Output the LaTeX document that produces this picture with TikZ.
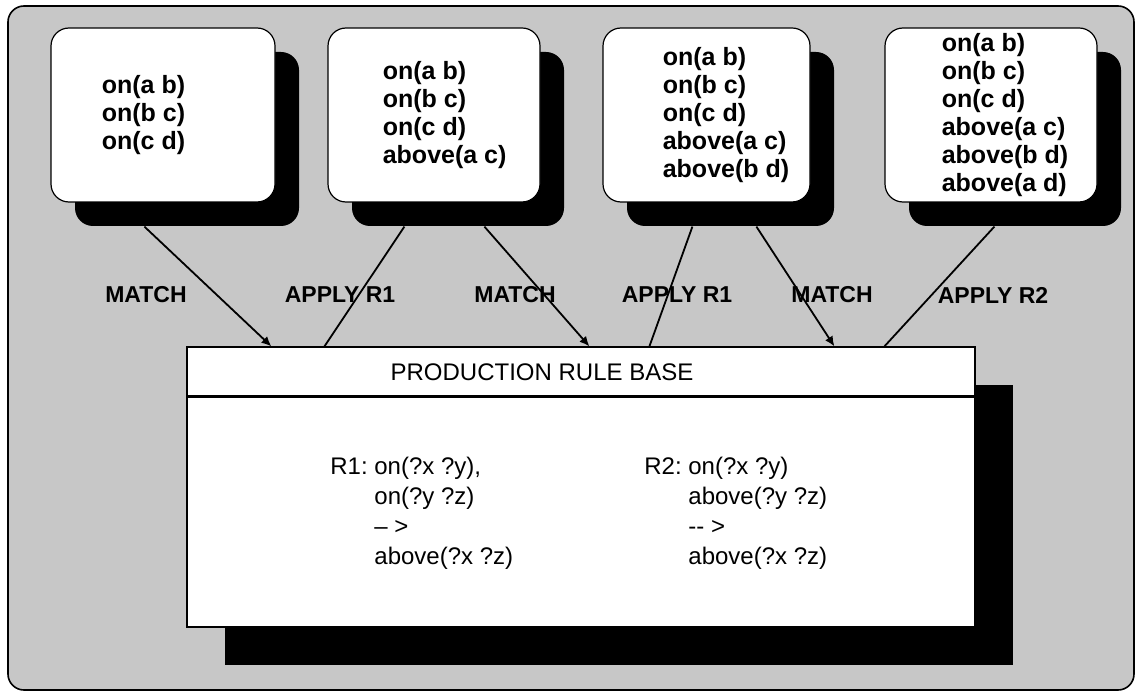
\documentclass[tikz,border=0pt]{standalone}
\usepackage{fontspec}
\setmainfont{Liberation Sans}
\usetikzlibrary{arrows.meta,calc,shadows,positioning}

\begin{document}
\begin{tikzpicture}[x=0.5pt, y=-0.5pt,
    every node/.style={font=\fontsize{12}{15}\selectfont},
    state/.style={draw=black, line width=0.6pt, fill=white, rounded corners=9pt,
      minimum height=87pt, inner sep=0pt,
      drop shadow={shadow xshift=12pt, shadow yshift=-12pt, fill=black, opacity=1}},
    facts/.style={align=left, inner sep=0pt, font=\bfseries\fontsize{12.5}{14}\selectfont},
    rulebox/.style={draw=black, line width=0.6pt, fill=white,
      minimum width=394pt, minimum height=140pt, inner sep=0pt,
      drop shadow={shadow xshift=19pt, shadow yshift=-19pt, fill=black, opacity=1}},
    tag/.style={font=\bfseries\fontsize{11.5}{12}\selectfont},
    flow/.style={line width=0.9pt},
    flowin/.style={flow, -{Latex[length=5pt,width=4.5pt]}}]
  \useasboundingbox (0,0) rectangle (1139,695);

  % halftone panel
  \draw[line width=0.8pt, fill=black!22, rounded corners=8pt] (8,6) rectangle (1134,690);

  % states of working memory
  \node[state, minimum width=112pt] (box1) at (163,115) {};
  \node[state, minimum width=106pt] (box2) at (434,115) {};
  \node[state, minimum width=103.5pt] (box3) at (706.5,115) {};
  \node[state, minimum width=106pt] (box4) at (991,115) {};
  \node[facts, right=25.5pt of box1.west] (txt1) {on(a b)\\on(b c)\\on(c d)};
  \node[facts, right=27.5pt of box2.west] (txt2) {on(a b)\\on(b c)\\on(c d)\\above(a c)};
  \node[facts, right=30pt of box3.west] (txt3) {on(a b)\\on(b c)\\on(c d)\\above(a c)\\above(b d)};
  \node[facts, right=28.5pt of box4.west] (txt4) {on(a b)\\on(b c)\\on(c d)\\above(a c)\\above(b d)\\above(a d)};

  % rule base
  \node[rulebox] (rules) at (581,487) {};
  \draw[line width=1.5pt] ($(rules.north west)+(0,50)$) -- ($(rules.north east)+(0,50)$);
  \node (title) at (542,372) {PRODUCTION RULE BASE};
  \node[anchor=base west, inner sep=0pt] (r1) at (330,474)
    {\begin{tabular}[t]{@{}l@{\ }l@{}}R1: & on(?x ?y),\\ & on(?y ?z)\\ & -- >\\ & above(?x ?z)\end{tabular}};
  \node[anchor=base west, inner sep=0pt] (r2) at (644,474)
    {\begin{tabular}[t]{@{}l@{\ }l@{}}R2: & on(?x ?y)\\ & above(?y ?z)\\ & {-}{-} >\\ & above(?x ?z)\end{tabular}};

  % match / apply cycle
  \draw[flowin] ($(box1.south west)+(94,24)$) -- ($(rules.north west)+(85,0)$);
  \draw[flow] ($(rules.north west)+(138,0)$) -- ($(box2.south west)+(77,24)$);
  \draw[flowin] ($(box2.south west)+(157,24)$) -- ($(rules.north west)+(403,0)$);
  \draw[flow] ($(rules.north west)+(463,0)$) -- ($(box3.south west)+(90,24)$);
  \draw[flowin] ($(box3.south west)+(154,24)$) -- ($(rules.north west)+(648,0)$);
  \draw[flow] ($(rules.north west)+(698,0)$) -- ($(box4.south west)+(110,24)$);

  \foreach \n/\x/\t in {1/146/MATCH, 2/340/APPLY R1, 3/515/MATCH,
                        4/677/APPLY R1, 5/832/MATCH, 6/993/APPLY R2}
    \node[tag] (tag\n) at (\x,295) {\t};
\end{tikzpicture}
\end{document}
